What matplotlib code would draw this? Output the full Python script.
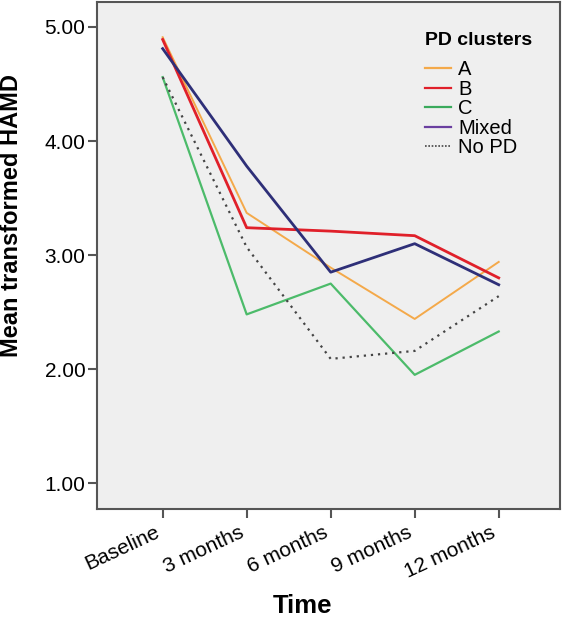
import matplotlib.pyplot as plt
import matplotlib.transforms as mtransforms
from matplotlib.lines import Line2D

plt.rcParams['font.family'] = ['Liberation Sans', 'DejaVu Sans']

time_labels = ['Baseline', '3 months', '6 months', '9 months', '12 months']
cluster_a = [4.91, 3.37, 2.89, 2.44, 2.94]
cluster_b = [4.89, 3.24, 3.21, 3.17, 2.80]
cluster_c = [4.56, 2.48, 2.75, 1.95, 2.33]
mixed = [4.81, 3.78, 2.85, 3.10, 2.74]
no_pd = [4.56, 3.07, 2.09, 2.16, 2.64]

fig = plt.figure(figsize=(5.68, 6.19), dpi=100)
ax = fig.add_axes([0.171, 0.177, 0.815, 0.820])
ax.set_facecolor('#efefef')

x = range(len(time_labels))
ax.plot(x, cluster_a, color='#f4a94a', lw=1.4)
ax.plot(x, cluster_b, color='#e0202a', lw=2.0)
ax.plot(x, cluster_c, color='#4cbb6a', lw=1.6)
ax.plot(x, mixed, color='#2e2f78', lw=2.0)
ax.plot(x, no_pd, color='#444444', lw=1.6, ls=(0, (1, 2.2)))

ax.set_xlim(-0.78, 4.73)
ax.set_ylim(0.77, 5.22)
ax.set_xticks(list(x))
ax.set_xticklabels(time_labels, rotation=25, ha='right', va='top', fontsize=15)
offset = mtransforms.ScaledTranslation(6 / 100, 0, fig.dpi_scale_trans)
for lbl in ax.get_xticklabels():
    lbl.set_transform(lbl.get_transform() + offset)
ax.set_yticks([1, 2, 3, 4, 5])
ax.set_yticklabels(['1.00', '2.00', '3.00', '4.00', '5.00'], fontsize=15)
ax.tick_params(length=6.5, width=1.5, color='#555555', pad=2)
ax.tick_params(axis='x', pad=3)
for s in ax.spines.values():
    s.set_color('#555555')
    s.set_linewidth(1.5)

ax.set_xlabel('Time', fontsize=18.5, fontweight='bold', va='center')
ax.xaxis.set_label_coords(0.443, -0.19)
ax.set_ylabel('Mean transformed HAMD', fontsize=17, fontweight='bold', va='center')
ax.yaxis.set_label_coords(-0.186, 0.58)

handles = [Line2D([], [], color='#f4a94a', lw=1.6),
           Line2D([], [], color='#e0202a', lw=1.6),
           Line2D([], [], color='#3aaa5c', lw=1.6),
           Line2D([], [], color='#6a3fa0', lw=1.6),
           Line2D([], [], color='#444444', lw=1.2, ls=(0, (1, 1)))]
leg = ax.legend(handles, ['A', 'B', 'C', 'Mixed', 'No PD'], title='PD clusters',
                loc='upper left', bbox_to_anchor=(0.708, 0.94), frameon=False,
                fontsize=14.5, handlelength=1.3, handletextpad=0.35,
                labelspacing=0.02, borderaxespad=0, borderpad=0)
leg.get_title().set_fontweight('bold')
leg.get_title().set_fontsize(14)
leg._legend_box.align = 'left'
leg._legend_box.sep = 8

fig.savefig('out.png', dpi=100)
